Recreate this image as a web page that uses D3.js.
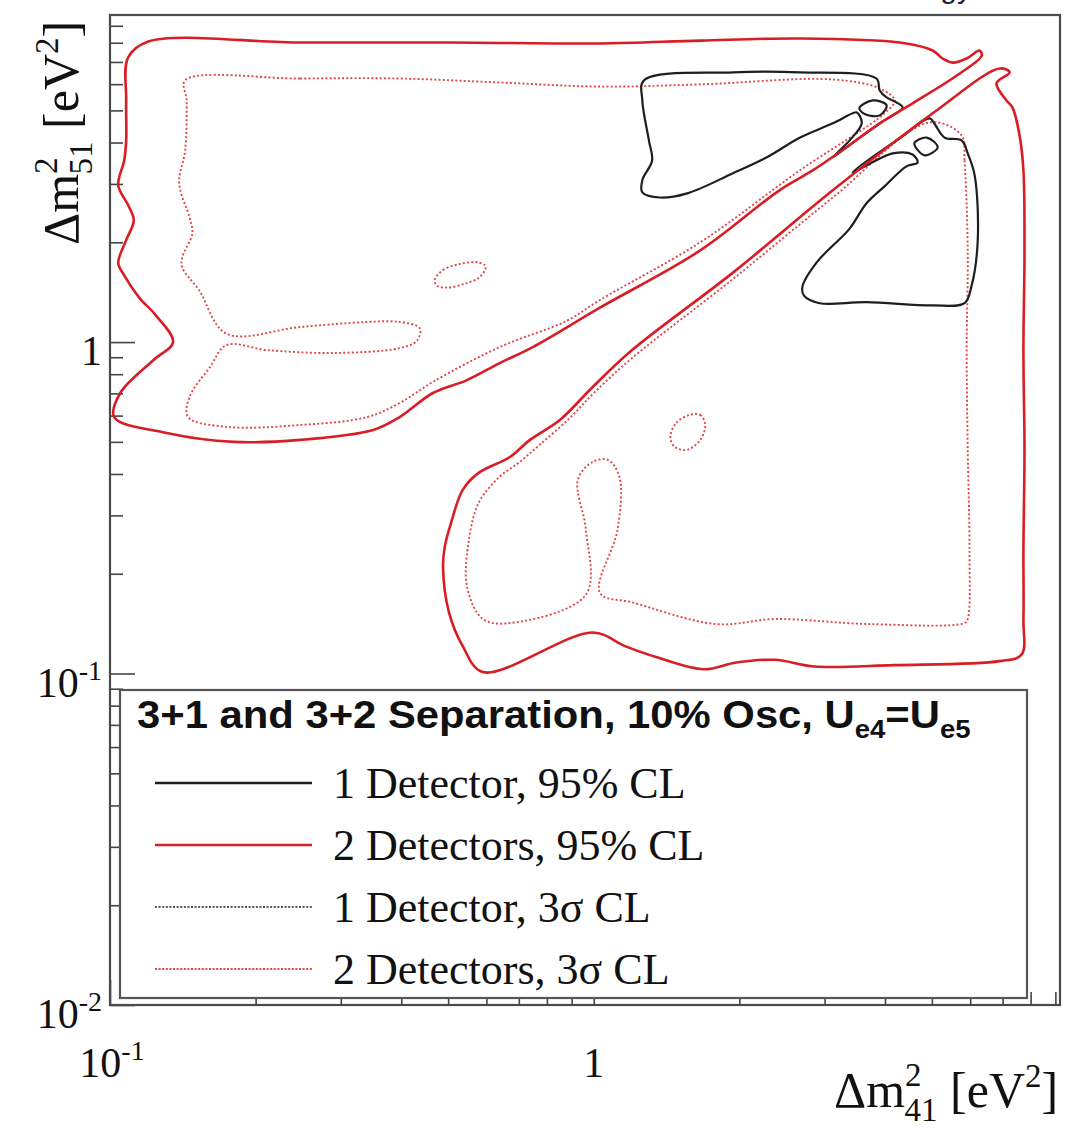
<!DOCTYPE html>
<html>
<head>
<meta charset="utf-8">
<script src="https://cdn.jsdelivr.net/npm/d3@7"></script>
<style>
  body { margin: 0; background: #fff; }
  svg { display: block; }
</style>
</head>
<body>
<svg width="1085" height="1128"></svg>
<script>
// contour points, each [dm41, dm51] in eV^2

// 2 detectors, 95% CL
const twoDet95Upper = [
  [0.109, 7.22], [0.120, 8.07], [0.247, 8.01], [0.504, 8.01], [1.03, 7.96], [1.66, 8.12],
  [2.67, 8.24], [4.29, 8.01], [5.02, 7.58], [5.26, 7.17], [5.52, 6.97], [5.90, 7.17],
  [6.27, 7.58], [6.34, 7.32], [5.71, 6.46], [4.56, 5.25], [3.90, 4.57], [3.33, 3.87],
  [2.84, 3.30], [2.42, 2.87], [1.66, 1.89], [1.03, 1.27], [0.748, 0.966], [0.639, 0.864],
  [0.547, 0.768], [0.465, 0.702], [0.397, 0.594], [0.350, 0.543], [0.247, 0.507], [0.180, 0.500],
  [0.131, 0.532], [0.102, 0.594], [0.105, 0.702], [0.123, 0.883], [0.135, 1.00], [0.124, 1.21],
  [0.115, 1.36], [0.107, 1.59], [0.104, 1.73], [0.108, 2.03], [0.112, 2.33], [0.109, 2.59],
  [0.104, 2.97], [0.107, 3.53], [0.108, 4.06], [0.108, 5.36]
];
const twoDet95Lower = [
  [6.90, 6.69], [7.24, 6.51], [6.80, 6.03], [7.13, 5.36], [7.34, 5.10], [7.59, 4.20],
  [7.73, 3.30], [7.77, 1.89], [7.73, 0.946], [7.77, 0.473], [7.73, 0.236], [7.73, 0.146],
  [7.66, 0.114], [6.90, 0.109], [4.17, 0.106], [2.86, 0.105], [2.37, 0.110], [1.97, 0.108],
  [1.69, 0.103], [1.35, 0.112], [1.16, 0.121], [0.995, 0.133], [0.590, 0.101], [0.536, 0.121],
  [0.502, 0.153], [0.488, 0.210], [0.492, 0.241], [0.507, 0.285], [0.536, 0.358], [0.578, 0.403],
  [0.671, 0.450], [0.738, 0.507], [0.851, 0.582], [0.995, 0.732], [1.20, 0.946], [1.94, 1.62],
  [3.12, 2.87], [5.02, 4.90]
];

// 2 detectors, 3 sigma
const twoDet3sUpper = [
  [0.143, 6.16], [0.247, 6.24], [0.397, 6.24], [0.639, 6.07], [1.03, 5.90], [1.66, 5.99],
  [3.12, 6.20], [3.90, 5.82], [4.19, 5.36], [3.99, 4.90], [2.67, 3.30], [1.66, 2.00],
  [1.03, 1.34], [0.880, 1.16], [0.639, 0.966], [0.465, 0.758], [0.397, 0.655], [0.340, 0.594],
  [0.247, 0.562], [0.174, 0.555], [0.145, 0.594], [0.146, 0.683], [0.161, 0.841], [0.174, 0.979],
  [0.211, 0.946], [0.289, 0.927], [0.397, 0.959], [0.431, 1.01], [0.437, 1.10], [0.397, 1.15],
  [0.340, 1.15], [0.247, 1.11], [0.174, 1.06], [0.153, 1.43], [0.141, 1.68], [0.141, 1.80],
  [0.148, 2.13], [0.146, 2.38], [0.139, 3.01], [0.143, 3.79], [0.144, 5.36]
];
const twoDet3sLower = [
  [5.76, 4.20], [5.84, 3.53], [5.93, 1.89], [5.90, 0.946], [5.93, 0.473], [5.98, 0.236],
  [5.93, 0.146], [5.84, 0.142], [3.72, 0.141], [2.37, 0.146], [1.79, 0.141], [1.20, 0.164],
  [1.03, 0.175], [1.12, 0.272], [1.13, 0.392], [1.07, 0.441], [0.995, 0.435], [0.927, 0.384],
  [0.963, 0.272], [0.963, 0.173], [0.671, 0.142], [0.590, 0.146], [0.547, 0.183], [0.552, 0.253],
  [0.578, 0.327], [0.636, 0.390], [0.703, 0.435], [0.773, 0.490], [0.892, 0.590], [1.005, 0.707],
  [1.20, 0.895], [1.94, 1.55], [3.12, 2.73], [4.95, 4.60]
];
const twoDet3sIslandA = [
  [0.469, 1.54], [0.488, 1.65], [0.529, 1.72], [0.576, 1.74], [0.598, 1.69],
  [0.581, 1.57], [0.541, 1.50], [0.499, 1.46], [0.474, 1.48]
];
const twoDet3sIslandB = [
  [1.58, 0.603], [1.66, 0.603], [1.70, 0.562], [1.66, 0.507],
  [1.56, 0.473], [1.47, 0.483], [1.44, 0.517], [1.48, 0.570]
];

// 1 detector, 95% CL
const oneDet95Upper = [
  [1.27, 6.16], [1.26, 5.36], [1.30, 4.06], [1.32, 3.53], [1.26, 3.08], [1.26, 2.83],
  [1.37, 2.73], [1.56, 2.81], [1.94, 3.23], [2.28, 3.61], [2.67, 4.14], [3.12, 4.57],
  [3.43, 4.90], [3.50, 4.93], [3.58, 4.57], [3.38, 4.06], [3.12, 3.61], [3.33, 3.87],
  [3.90, 4.57], [4.35, 5.10], [4.23, 5.28], [4.03, 5.47], [3.90, 5.74], [3.84, 6.24],
  [2.67, 6.51], [1.94, 6.51]
];
const oneDet95Lower = [
  [5.07, 4.54], [5.31, 4.14], [5.76, 4.06], [5.93, 3.71], [6.13, 3.18], [6.22, 2.03],
  [6.04, 1.48], [5.84, 1.31], [5.02, 1.29], [3.66, 1.32], [2.93, 1.31], [2.72, 1.38],
  [2.70, 1.47], [2.89, 1.74], [3.38, 2.20], [3.66, 2.62], [3.99, 2.95], [4.43, 3.39],
  [4.67, 3.48], [4.56, 3.68], [4.15, 3.71], [3.43, 3.25], [4.29, 4.12], [4.95, 4.73]
];
const oneDet95IslandA = [[3.54, 5.07], [3.77, 5.36], [4.03, 5.18], [3.90, 4.83], [3.65, 4.86]];
const oneDet95IslandB = [[4.60, 3.98], [4.88, 4.14], [5.14, 3.87], [4.83, 3.66]];

// axes
const xMajor = [0.1, 1];
const xMinor = [0.2, 0.3, 0.4, 0.5, 0.6, 0.7, 0.8, 0.9, 2, 3, 4, 5, 6, 7, 8, 9];
const yMajor = [0.01, 0.1, 1];
const yMinor = [0.02, 0.03, 0.04, 0.05, 0.06, 0.07, 0.08, 0.09,
                0.2, 0.3, 0.4, 0.5, 0.6, 0.7, 0.8, 0.9, 2, 3, 4, 5, 6, 7, 8, 9];
const xTickLabels = [{ v: 0.1, base: "10", exp: "-1" }, { v: 1, base: "1", exp: "" }];
const yTickLabels = [
  { v: 0.01, base: "10", exp: "-2" },
  { v: 0.1, base: "10", exp: "-1" },
  { v: 1, base: "1", exp: "" }
];

const legendTitle = "3+1 and 3+2 Separation, 10% Osc, U";
const legendLabels = ["1 Detector, 95% CL", "2 Detectors, 95% CL", "1 Detector, 3σ CL", "2 Detectors, 3σ CL"];

const svg = d3.select("svg");
const width = +svg.attr("width");
const height = +svg.attr("height");

const frame = { left: 110, top: 15, right: 1060, bottom: 1005 };
const RED = "#d81e24";
const PINK = "#e0474c";
const SERIF = "'Liberation Serif', 'Times New Roman', serif";
const SANS = "'Liberation Sans', Arial, sans-serif";

const x = d3.scaleLog().domain([0.1, 9.2]).range([frame.left, frame.right]);
const y = d3.scaleLog().domain([0.01, 9.7]).range([frame.bottom, frame.top]);

const contour = d3.line()
  .x(d => x(d[0]))
  .y(d => y(d[1]))
  .curve(d3.curveCatmullRomClosed.alpha(0.5));

svg.append("defs").append("clipPath").attr("id", "plot")
  .append("rect")
    .attr("x", frame.left).attr("y", frame.top)
    .attr("width", frame.right - frame.left).attr("height", frame.bottom - frame.top);

// title of the page above, only its bottom edge shows
svg.append("text")
  .attr("x", 972).attr("y", -2)
  .attr("text-anchor", "end")
  .attr("font-family", SANS).attr("font-size", 30)
  .attr("fill", "#222")
  .text("Energy");

// ticks
const tickGroup = (axis, tx, ty) => svg.append("g")
  .attr("transform", `translate(${tx},${ty})`)
  .attr("color", "#444")
  .call(axis)
  .call(g => g.select(".domain").remove())
  .call(g => g.selectAll("line").attr("stroke-width", 1.6));

tickGroup(d3.axisLeft(y).tickValues(yMinor).tickSize(-13).tickFormat(""), frame.left, 0);
tickGroup(d3.axisLeft(y).tickValues(yMajor).tickSize(-25).tickFormat(""), frame.left, 0);
tickGroup(d3.axisBottom(x).tickValues(xMinor).tickSize(-13).tickFormat(""), 0, frame.bottom);
tickGroup(d3.axisBottom(x).tickValues(xMajor).tickSize(-25).tickFormat(""), 0, frame.bottom);

// contours
const plot = svg.append("g").attr("clip-path", "url(#plot)");

const dotted = [twoDet3sUpper, twoDet3sLower, twoDet3sIslandA, twoDet3sIslandB];
plot.selectAll("path.sigma3")
  .data(dotted)
  .enter().append("path")
    .attr("class", "sigma3")
    .attr("d", contour)
    .attr("fill", "none")
    .attr("stroke", PINK)
    .attr("stroke-width", 1.9)
    .attr("stroke-dasharray", "2,2.2");

const oneDet = [oneDet95Upper, oneDet95Lower, oneDet95IslandA, oneDet95IslandB];
plot.selectAll("path.oneDet")
  .data(oneDet)
  .enter().append("path")
    .attr("class", "oneDet")
    .attr("d", contour)
    .attr("fill", "none")
    .attr("stroke", "#1e1e1e")
    .attr("stroke-width", 2.2)
    .attr("stroke-linejoin", "round");

const twoDet = [twoDet95Upper, twoDet95Lower];
plot.selectAll("path.twoDet")
  .data(twoDet)
  .enter().append("path")
    .attr("class", "twoDet")
    .attr("d", contour)
    .attr("fill", "none")
    .attr("stroke", RED)
    .attr("stroke-width", 2.6)
    .attr("stroke-linejoin", "round");

// frame
svg.append("rect")
  .attr("x", frame.left).attr("y", frame.top)
  .attr("width", frame.right - frame.left).attr("height", frame.bottom - frame.top)
  .attr("fill", "none")
  .attr("stroke", "#4a4a4a")
  .attr("stroke-width", 2.2);

// tick labels
const tickLabel = (sel) => {
  sel.append("tspan").text(d => d.base);
  sel.append("tspan")
    .attr("dy", -17)
    .attr("font-size", 28)
    .text(d => d.exp);
};

svg.selectAll("text.ylab")
  .data(yTickLabels)
  .enter().append("text")
    .attr("class", "ylab")
    .attr("x", 102)
    .attr("y", d => y(d.v) + 23)
    .attr("text-anchor", "end")
    .attr("font-family", SERIF).attr("font-size", 42)
    .attr("fill", "#111")
    .call(tickLabel);

svg.selectAll("text.xlab")
  .data(xTickLabels)
  .enter().append("text")
    .attr("class", "xlab")
    .attr("x", d => x(d.v) + (d.exp ? 2 : 0))
    .attr("y", 1077)
    .attr("text-anchor", "middle")
    .attr("font-family", SERIF).attr("font-size", 42)
    .attr("fill", "#111")
    .call(tickLabel);

// axis titles
const axisTitle = (sel, sub) => {
  sel.append("tspan").text("Δm");
  sel.append("tspan").attr("font-size", 33).attr("dy", -21).text("2");
  sel.append("tspan").attr("font-size", 33).attr("dx", -17).attr("dy", 35).text(sub);
  sel.append("tspan").attr("dy", -14).text(" [eV");
  sel.append("tspan").attr("font-size", 33).attr("dy", -20).text("2");
  sel.append("tspan").attr("dy", 20).text("]");
};

svg.append("text")
  .attr("x", 834).attr("y", 1107)
  .attr("font-family", SERIF).attr("font-size", 50)
  .attr("fill", "#111")
  .call(axisTitle, "41");

svg.append("text")
  .attr("transform", "translate(78,245) rotate(-90)")
  .attr("font-family", SERIF).attr("font-size", 50)
  .attr("fill", "#111")
  .call(axisTitle, "51");

// legend
const legend = svg.append("g");
legend.append("rect")
  .attr("x", 120).attr("y", 690)
  .attr("width", 907).attr("height", 308)
  .attr("fill", "#fff")
  .attr("stroke", "#555")
  .attr("stroke-width", 2.2);

const title = legend.append("text")
  .attr("transform", "translate(137,728) scale(1.1,1)")
  .attr("font-family", SANS).attr("font-weight", "bold").attr("font-size", 38)
  .attr("fill", "#111");
title.append("tspan").text(legendTitle);
title.append("tspan").attr("font-size", 25).attr("dy", 10).text("e4");
title.append("tspan").attr("dy", -10).text("=U");
title.append("tspan").attr("font-size", 25).attr("dy", 10).text("e5");

const sampleStyle = [
  { stroke: "#1e1e1e", width: 2.4, dash: null },
  { stroke: RED, width: 2.6, dash: null },
  { stroke: "#555", width: 2, dash: "2,1.6" },
  { stroke: PINK, width: 2, dash: "2,1.6" }
];
const rowY = i => 783 + i * 62;

const rows = legend.selectAll("g.row")
  .data(legendLabels)
  .enter().append("g")
    .attr("class", "row")
    .attr("transform", (d, i) => `translate(0,${rowY(i)})`);

rows.append("line")
  .attr("x1", 155).attr("x2", 312)
  .attr("stroke", (d, i) => sampleStyle[i].stroke)
  .attr("stroke-width", (d, i) => sampleStyle[i].width)
  .attr("stroke-dasharray", (d, i) => sampleStyle[i].dash);

rows.append("text")
  .attr("x", 333).attr("y", 15)
  .attr("font-family", SERIF).attr("font-size", 44)
  .attr("fill", "#111")
  .text(d => d);
</script>
</body>
</html>
